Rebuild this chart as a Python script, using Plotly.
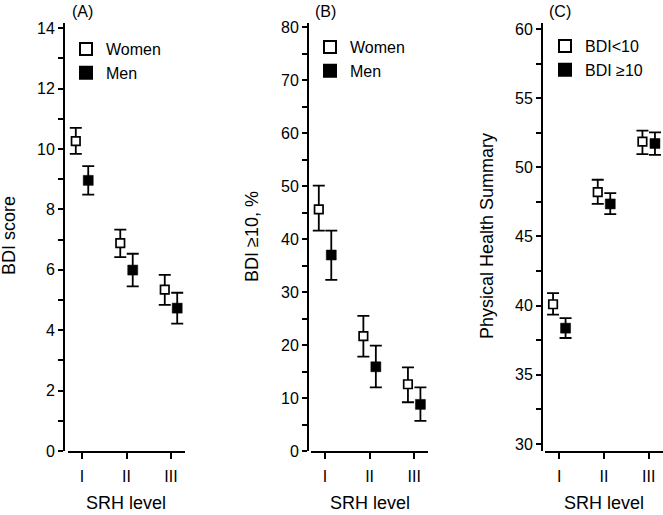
import plotly.graph_objects as go

# ---------------- data ----------------
srh_pos = [1, 2, 3]
srh_labels = ["I", "II", "III"]

# Panel A: BDI score (mean, 95% CI)
a_women_mean = [10.26, 6.88, 5.34]
a_women_hi = [10.70, 7.33, 5.83]
a_women_lo = [9.84, 6.42, 4.84]
a_men_mean = [8.96, 5.99, 4.73]
a_men_hi = [9.43, 6.53, 5.24]
a_men_lo = [8.49, 5.45, 4.22]

# Panel B: BDI >=10, %
b_women_mean = [45.6, 21.7, 12.6]
b_women_hi = [50.1, 25.5, 15.8]
b_women_lo = [41.6, 17.8, 9.2]
b_men_mean = [37.0, 15.9, 8.8]
b_men_hi = [41.6, 19.9, 12.0]
b_men_lo = [32.3, 12.0, 5.7]

# Panel C: Physical Health Summary
c_low_mean = [40.10, 48.20, 51.85]
c_low_hi = [40.90, 49.10, 52.65]
c_low_lo = [39.35, 47.35, 50.95]
c_high_mean = [38.37, 47.35, 51.72]
c_high_hi = [39.10, 48.13, 52.52]
c_high_lo = [37.66, 46.61, 50.90]

a_ticks = [0, 2, 4, 6, 8, 10, 12, 14]
b_ticks = [0, 10, 20, 30, 40, 50, 60, 70, 80]
c_ticks = [30, 35, 40, 45, 50, 55, 60]

# ---------------- layout helpers ----------------
W, H = 663, 515
FONT = "Liberation Sans, Arial, sans-serif"


def px(x):
    return x / W


def py(y):
    return 1 - y / H


OFF = 0.14
fig = go.Figure()


def add_pair(xa, ya, m1, hi1, lo1, n1, m2, hi2, lo2, n2, leg):
    x1 = [p - OFF for p in srh_pos]
    x2 = [p + OFF for p in srh_pos]
    fig.add_trace(go.Scatter(
        x=x1, y=m1, mode="markers", name=n1, xaxis=xa, yaxis=ya, legend=leg,
        cliponaxis=False,
        marker=dict(symbol="square", size=8.5, color="white",
                    line=dict(color="black", width=1.7)),
        error_y=dict(type="data", symmetric=False,
                     array=[h - m for h, m in zip(hi1, m1)],
                     arrayminus=[m - l for m, l in zip(m1, lo1)],
                     thickness=1.8, width=6, color="black"),
    ))
    fig.add_trace(go.Scatter(
        x=x2, y=m2, mode="markers", name=n2, xaxis=xa, yaxis=ya, legend=leg,
        cliponaxis=False,
        marker=dict(symbol="square", size=10, color="black",
                    line=dict(color="black", width=0.5)),
        error_y=dict(type="data", symmetric=False,
                     array=[h - m for h, m in zip(hi2, m2)],
                     arrayminus=[m - l for m, l in zip(m2, lo2)],
                     thickness=1.8, width=6, color="black"),
    ))


add_pair("x", "y", a_women_mean, a_women_hi, a_women_lo, "Women",
         a_men_mean, a_men_hi, a_men_lo, "Men", "legend")
add_pair("x2", "y2", b_women_mean, b_women_hi, b_women_lo, "Women",
         b_men_mean, b_men_hi, b_men_lo, "Men", "legend2")
add_pair("x3", "y3", c_low_mean, c_low_hi, c_low_lo, "BDI<10",
         c_high_mean, c_high_hi, c_high_lo, "BDI ≥10", "legend3")

panels = [
    # yaxis px, x domain px, x range, y range, ticks, minor dtick
    dict(yx=64, xd=(68, 185), xr=(0.685, 3.315), yr=(0, 14.17), t=a_ticks, mdt=1),
    dict(yx=308, xd=(311, 428), xr=(0.685, 3.31), yr=(0, 80.8), t=b_ticks, mdt=5),
    dict(yx=542, xd=(545, 663), xr=(0.68, 3.32), yr=(29.49, 60.43), t=c_ticks, mdt=2.5),
]

ydom = [py(451), py(23)]
lay = {}
for i, p in enumerate(panels):
    s = "" if i == 0 else str(i + 1)
    lay["xaxis" + s] = dict(
        domain=[px(p["xd"][0]), px(p["xd"][1])], range=list(p["xr"]),
        anchor="y" + s, tickmode="array", tickvals=srh_pos, ticktext=srh_labels,
        ticks="outside", ticklen=6, tickwidth=1.7, tickcolor="black",
        showline=True, linecolor="black", linewidth=2, showgrid=False,
        zeroline=False, tickfont=dict(family=FONT, size=16, color="black"),
        ticklabelstandoff=4, automargin=False,
    )
    lay["yaxis" + s] = dict(
        domain=ydom, range=list(p["yr"]), anchor="free", position=px(p["yx"]),
        tickmode="array", tickvals=p["t"],
        ticks="outside", ticklen=5, tickwidth=1.7, tickcolor="black",
        minor=dict(dtick=p["mdt"], ticks="outside", ticklen=5, tickwidth=1.7,
                   tickcolor="black", showgrid=False),
        showline=True, linecolor="black", linewidth=2, showgrid=False,
        zeroline=False, tickfont=dict(family=FONT, size=16, color="black"),
        automargin=False,
    )

legend_common = dict(bgcolor="rgba(0,0,0,0)", borderwidth=0,
                     font=dict(family=FONT, size=16, color="black"),
                     itemsizing="constant", tracegroupgap=0,
                     xanchor="left", yanchor="top")
lay["legend"] = dict(x=px(66), y=py(32), **legend_common)
lay["legend2"] = dict(x=px(310), y=py(30), **legend_common)
lay["legend3"] = dict(x=px(545), y=py(29), **legend_common)

annos = []
for txt, x, y in [("(A)", 82, 12), ("(B)", 325, 12), ("(C)", 560, 12)]:
    annos.append(dict(text=txt, x=px(x), y=py(y), xref="paper", yref="paper",
                      showarrow=False, xanchor="center", yanchor="middle",
                      font=dict(family=FONT, size=16, color="black")))
for x in [126.5, 370, 604]:
    annos.append(dict(text="SRH level", x=px(x), y=py(503), xref="paper", yref="paper",
                      showarrow=False, xanchor="center", yanchor="middle",
                      font=dict(family=FONT, size=18, color="black")))
for txt, x, y in [("BDI score", 9, 236), ("BDI ≥10, %", 252, 237),
                  ("Physical Health Summary", 487, 236)]:
    annos.append(dict(text=txt, x=px(x), y=py(y), xref="paper", yref="paper",
                      showarrow=False, xanchor="center", yanchor="middle", textangle=-90,
                      font=dict(family=FONT, size=18, color="black")))

fig.update_layout(
    template="none",
    width=W, height=H, margin=dict(l=0, r=0, t=0, b=0, autoexpand=False),
    paper_bgcolor="white", plot_bgcolor="white",
    showlegend=True, annotations=annos,
    font=dict(family=FONT, size=16, color="black"),
    **lay,
)

fig.write_html(
    "out.html",
    config={"displayModeBar": False},
    post_script="document.body.style.margin='0';document.body.style.overflow='hidden';",
)
